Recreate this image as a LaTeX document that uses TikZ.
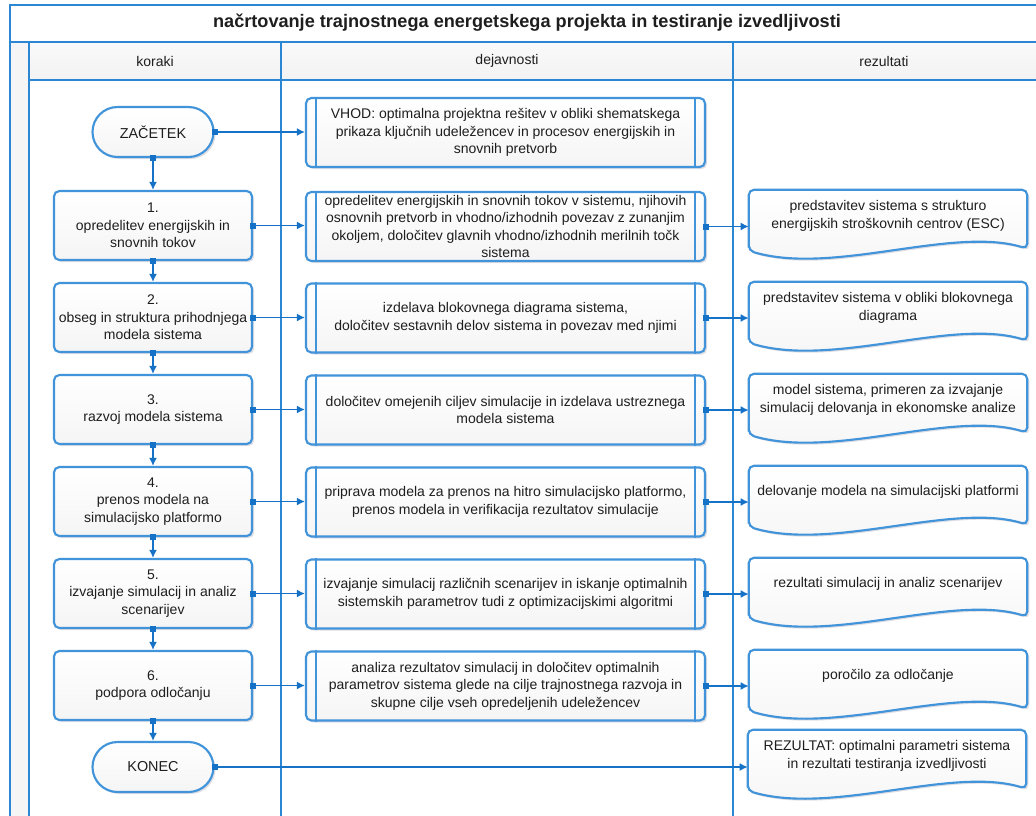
\documentclass[tikz,border=0pt]{standalone}
\usepackage{fontspec}
\setmainfont{Liberation Sans}
\usetikzlibrary{arrows.meta,shadows,calc}
\definecolor{frameblue}{HTML}{2B86D4}
\definecolor{boxblue}{HTML}{4294DA}
\definecolor{arrowblue}{HTML}{1672C6}
\definecolor{txt}{HTML}{1E1E1E}
\pgfdeclarelayer{lanes}
\pgfdeclarelayer{boxes}
\pgfsetlayers{lanes,boxes,main}

\tikzset{
  lane/.style={draw=frameblue, line width=2.1pt},
  boxshade/.style={top color=white, bottom color=black!4},
  boxshadow/.style={drop shadow={shadow xshift=1.5pt, shadow yshift=-1.5pt, opacity=0.13, fill=black!80!blue}},
  bodyfont/.style={font=\fontsize{10.5}{13.1}\selectfont, text=txt},
  stepbox/.style={draw=boxblue, line width=1.6pt, rounded corners=4pt, boxshade, boxshadow,
    minimum width=148.5pt, minimum height=51.75pt, align=center, inner sep=1pt, bodyfont},
  term/.style={draw=boxblue, line width=1.6pt, rounded corners=18.75pt, boxshade, boxshadow,
    minimum width=90.75pt, minimum height=37.5pt, font=\fontsize{10.8}{13}\selectfont, text=txt},
  actbox/.style={draw=boxblue, line width=1.6pt, rounded corners=4pt, boxshade, boxshadow,
    minimum width=299.25pt, minimum height=51.75pt, align=center, inner sep=1pt, bodyfont},
  rezbox/.style={minimum width=208.5pt, minimum height=39pt, align=center, inner sep=0pt, bodyfont},
  docline/.style={draw=boxblue, line width=1.6pt, rounded corners=4pt, boxshade, boxshadow},
  sideline/.style={draw=boxblue, line width=1.2pt},
  flow/.style={draw=arrowblue, line width=1.25pt,
    {Square[length=4.5pt,width=4.5pt]}-{Latex[length=6pt,width=6pt]}, shorten <=-2.25pt},
  headfont/.style={font=\fontsize{10.5}{12}\selectfont, text=txt},
}

% inner side bars of a predefined-process box
\newcommand\sidebars[1]{%
  \draw[sideline] ([xshift=8.25pt]#1.north west) -- ([xshift=8.25pt]#1.south west);
  \draw[sideline] ([xshift=-8.25pt]#1.north east) -- ([xshift=-8.25pt]#1.south east);}

% document outline with wavy bottom around a result node
\newcommand\docoutline[1]{%
  \begin{pgfonlayer}{boxes}
  \draw[docline] ($(#1.north west)+(0,61)$) -- (#1.north west) -- (#1.north east)
    -- ($(#1.north east)+(0,59)$)
    .. controls ($(#1.north east)+(-75,36)$) and ($(#1.north west)+(85,86)$) ..
    ($(#1.north west)+(0,61)$) -- cycle;
  \end{pgfonlayer}}

\begin{document}
\begin{tikzpicture}[x=0.75pt, y=-0.75pt]
\clip (0,0) rectangle (1036,815);

% swimlane frame
\begin{pgfonlayer}{lanes}
  \fill[white] (0,0) rectangle (1036,815);
  \filldraw[lane, fill=white] (10,5) rectangle (1050,42);
  \filldraw[lane, fill=black!4] (10,42) rectangle (29,830);
  \draw[lane, top color=black!2, bottom color=black!5] (29,42) rectangle (281,80);
  \draw[lane, top color=black!2, bottom color=black!5] (281,42) rectangle (733,80);
  \draw[lane, top color=black!2, bottom color=black!5] (733,42) rectangle (1050,80);
  \draw[lane] (29,80) rectangle (281,830);
  \draw[lane] (281,80) rectangle (733,830);
  \draw[lane] (733,80) rectangle (1050,830);
\end{pgfonlayer}

\node[font=\bfseries\fontsize{13.6}{15}\selectfont, text=txt] (title) at (527,23)
  {načrtovanje trajnostnega energetskega projekta in testiranje izvedljivosti};
\node[headfont] (hkoraki) at (155,61) {koraki};
\node[headfont] (hdejav) at (507,61) {dejavnosti};
\node[headfont] (hrez) at (884,61) {rezultati};

% koraki
\node[term] (start) at (153,132) {ZAČETEK};
\node[stepbox] (s1) at (153,225.5) {1.\\opredelitev energijskih in\\snovnih tokov};
\node[stepbox] (s2) at (153,317.5) {2.\\obseg in struktura prihodnjega\\modela sistema};
\node[stepbox] (s3) at (153,409.5) {3.\\razvoj modela sistema};
\node[stepbox] (s4) at (153,501.5) {4.\\prenos modela na\\simulacijsko platformo};
\node[stepbox] (s5) at (153,593.5) {5.\\izvajanje simulacij in analiz\\scenarijev};
\node[stepbox] (s6) at (153,685.5) {6.\\podpora odločanju};
\node[term] (end) at (153,767) {KONEC};

% dejavnosti
\node[actbox] (d0) at (505.5,132.5) {VHOD: optimalna projektna rešitev v obliki shematskega\\prikaza ključnih udeležencev in procesov energijskih in\\snovnih pretvorb};
\node[actbox] (d1) at (505.5,226.5) {opredelitev energijskih in snovnih tokov v sistemu, njihovih\\osnovnih pretvorb in vhodno/izhodnih povezav z zunanjim\\okoljem, določitev glavnih vhodno/izhodnih merilnih točk\\sistema};
\node[actbox] (d2) at (505.5,318) {izdelava blokovnega diagrama sistema,\\določitev sestavnih delov sistema in povezav med njimi};
\node[actbox] (d3) at (505.5,410) {določitev omejenih ciljev simulacije in izdelava ustreznega\\modela sistema};
\node[actbox] (d4) at (505.5,502) {priprava modela za prenos na hitro simulacijsko platformo,\\prenos modela in verifikacija rezultatov simulacije};
\node[actbox] (d5) at (505.5,594) {izvajanje simulacij različnih scenarijev in iskanje optimalnih\\sistemskih parametrov tudi z optimizacijskimi algoritmi};
\node[actbox] (d6) at (505.5,686) {analiza rezultatov simulacij in določitev optimalnih\\parametrov sistema glede na cilje trajnostnega razvoja in\\skupne cilje vseh opredeljenih udeležencev};
\foreach \n in {d0,d1,d2,d3,d4,d5,d6} {\sidebars{\n}}

% rezultati
\node[rezbox] (r1) at (888,216) {predstavitev sistema s strukturo\\energijskih stroškovnih centrov (ESC)};
\node[rezbox] (r2) at (888,308) {predstavitev sistema v obliki blokovnega\\diagrama};
\node[rezbox] (r3) at (888,400) {model sistema, primeren za izvajanje\\simulacij delovanja in ekonomske analize};
\node[rezbox] (r4) at (888,492) {delovanje modela na simulacijski platformi};
\node[rezbox] (r5) at (888,584) {rezultati simulacij in analiz scenarijev};
\node[rezbox] (r6) at (888,676) {poročilo za odločanje};
\node[rezbox] (r7) at (887,756) {REZULTAT: optimalni parametri sistema\\in rezultati testiranja izvedljivosti};
\foreach \n in {r1,r2,r3,r4,r5,r6,r7} {\docoutline{\n}}

% vertical flow
\draw[flow] (start.south) -- (s1.north);
\draw[flow] (s1.south) -- (s2.north);
\draw[flow] (s2.south) -- (s3.north);
\draw[flow] (s3.south) -- (s4.north);
\draw[flow] (s4.south) -- (s5.north);
\draw[flow] (s5.south) -- (s6.north);
\draw[flow] (s6.south) -- (end.north);

% steps to activities, activities to results
\draw[flow] (start.east) -- (start.east -| d0.west);
\foreach \i in {1,...,6} {
  \draw[flow] (s\i.east) -- (s\i.east -| d\i.west);
  \draw[flow] (d\i.east) -- (d\i.east -| r\i.west);
}
\draw[flow] (end.east) -- (end.east -| r7.west);
\end{tikzpicture}
\end{document}
